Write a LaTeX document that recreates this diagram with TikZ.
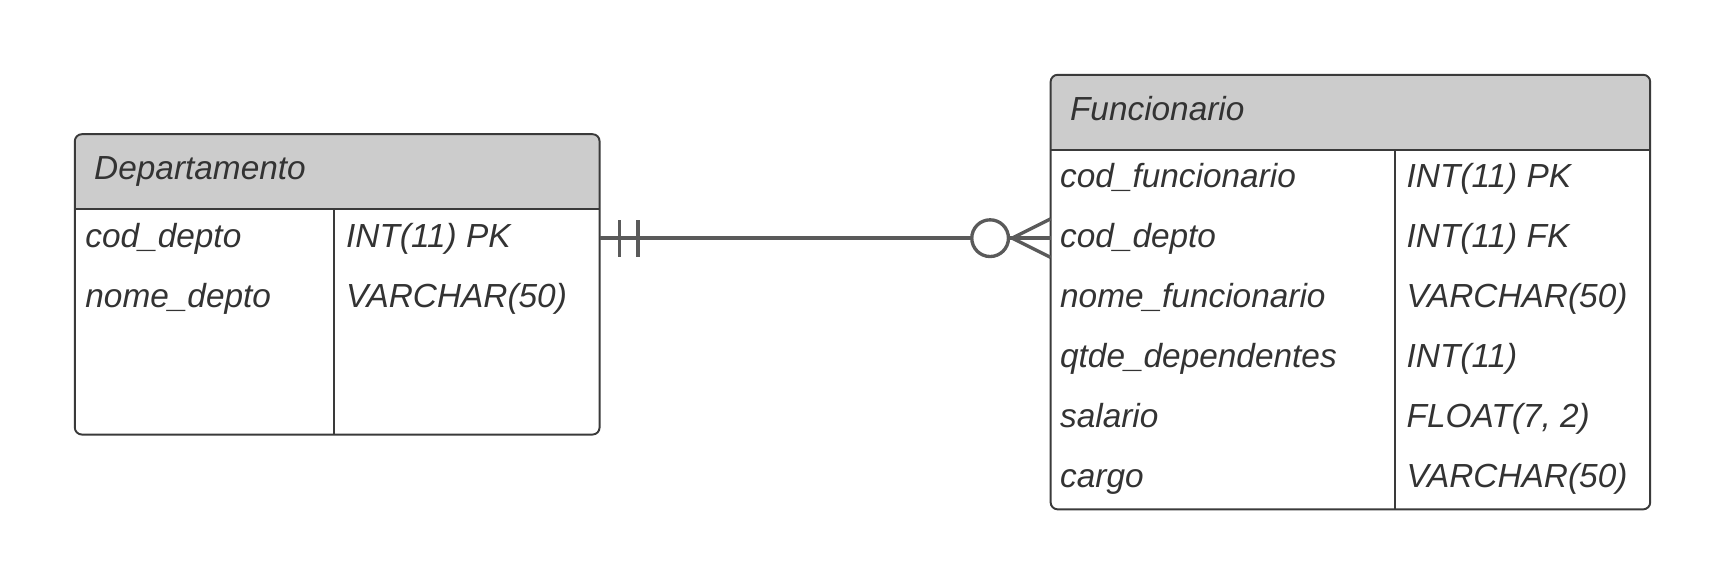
\documentclass[tikz,border=0pt]{standalone}
\usepackage{fontspec}
\setmainfont{Liberation Sans}
\usetikzlibrary{fit}
\definecolor{hdr}{HTML}{CCCCCC}
\definecolor{txt}{HTML}{333333}
\definecolor{bord}{HTML}{3A3A3A}
\definecolor{relc}{HTML}{5A5A5A}
\begin{document}
\begin{tikzpicture}[x=0.011cm, y=-0.011cm,
  frame/.style={inner sep=0pt, outer sep=0pt},
  boxline/.style={draw=bord, line width=0.55pt, rounded corners=2pt},
  sepline/.style={draw=bord, line width=0.55pt},
  lbl/.style={inner sep=0pt, anchor=base west, text=txt, font=\fontsize{9.5}{11}\selectfont\itshape},
  relline/.style={draw=relc, line width=0.95pt},
  zerocirc/.style={circle, draw=relc, line width=0.95pt, fill=white, minimum size=0.367cm, inner sep=0pt}
]
\useasboundingbox (0,0) rectangle (1568,532);

% ---------- Departamento ----------
\coordinate (d1) at (68,122);
\coordinate (d2) at (545,395);
\coordinate (dh) at (0,190);
\coordinate (dv) at (304,190);
\node[frame, fit=(d1)(d2)] (dep) {};
\begin{scope}
  \clip[rounded corners=2pt] (dep.north west) rectangle (dep.south east);
  \fill[hdr] (dep.north west) rectangle (dep.east |- dh);
\end{scope}
\draw[boxline] (dep.north west) rectangle (dep.south east);
\draw[sepline] (dep.west |- dh) -- (dep.east |- dh);
\draw[sepline] (dv) -- (dv |- dep.south);

\node[lbl] (dept) at (85,163.5) {Departamento};
\node[lbl] (da1) at (77,225) {cod\_depto};
\node[lbl] (dt1) at (314,225) {INT(11) PK};
\node[lbl] (da2) at (77,279.5) {nome\_depto};
\node[lbl] (dt2) at (314,279.5) {VARCHAR(50)};

% ---------- Funcionario ----------
\coordinate (f1) at (955,68);
\coordinate (f2) at (1500,463);
\coordinate (fh) at (0,136);
\coordinate (fv) at (1268,136);
\node[frame, fit=(f1)(f2)] (fun) {};
\begin{scope}
  \clip[rounded corners=2pt] (fun.north west) rectangle (fun.south east);
  \fill[hdr] (fun.north west) rectangle (fun.east |- fh);
\end{scope}
\draw[boxline] (fun.north west) rectangle (fun.south east);
\draw[sepline] (fun.west |- fh) -- (fun.east |- fh);
\draw[sepline] (fv) -- (fv |- fun.south);

\node[lbl] (funt) at (972,109.5) {Funcionario};
\node[lbl] (fa1) at (963,170.5) {cod\_funcionario};
\node[lbl] (ft1) at (1278,170.5) {INT(11) PK};
\node[lbl] (fa2) at (963,225) {cod\_depto};
\node[lbl] (ft2) at (1278,225) {INT(11) FK};
\node[lbl] (fa3) at (963,279.5) {nome\_funcionario};
\node[lbl] (ft3) at (1278,279.5) {VARCHAR(50)};
\node[lbl] (fa4) at (963,334) {qtde\_dependentes};
\node[lbl] (ft4) at (1278,334) {INT(11)};
\node[lbl] (fa5) at (963,388.5) {salario};
\node[lbl] (ft5) at (1278,388.5) {FLOAT(7, 2)};
\node[lbl] (fa6) at (963,443) {cargo};
\node[lbl] (ft6) at (1278,443) {VARCHAR(50)};

% ---------- Relationship ----------
\coordinate (ry) at (0,216.5);
\draw[relline] (dep.east |- ry) -- (fun.west |- ry);
% mandatory one (two bars)
\coordinate (b1) at (563,200);
\coordinate (b2) at (580,200);
\coordinate (bb) at (0,234);
\draw[relline] (b1) -- (b1 |- bb);
\draw[relline] (b2) -- (b2 |- bb);
% zero or many
\node[zerocirc] (zc) at (900,216.5) {};
\coordinate (cf) at (920,216.5);
\coordinate (ct) at (0,199);
\coordinate (cb) at (0,234);
\draw[relline] (fun.west |- ct) -- (cf) -- (fun.west |- cb);
\end{tikzpicture}
\end{document}
